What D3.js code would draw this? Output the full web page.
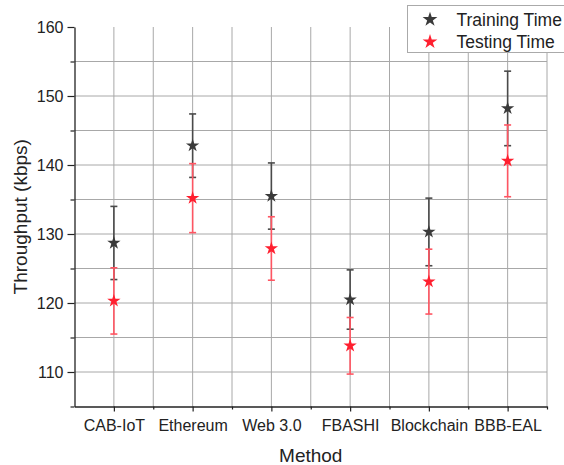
<!DOCTYPE html>
<html>
<head>
<meta charset="utf-8">
<script src="https://cdn.jsdelivr.net/npm/d3@7"></script>
<style>
  body { margin: 0; background: #fff; }
  svg { display: block; font-family: "Liberation Sans", Arial, sans-serif; }
</style>
</head>
<body>
<div id="chart"></div>
<script>
// methods on the x axis
var methods = ["CAB-IoT", "Ethereum", "Web 3.0", "FBASHI", "Blockchain", "BBB-EAL"];

// throughput (kbps)
var trainingTime = [128.7, 142.8, 135.5, 120.5, 130.3, 148.2];
var trainingErr  = [5.3, 4.6, 4.8, 4.3, 4.9, 5.4];
var testingTime  = [120.3, 135.2, 127.9, 113.8, 123.1, 140.6];
var testingErr   = [4.8, 5.0, 4.6, 4.1, 4.7, 5.2];

var yTicks = [110, 120, 130, 140, 150, 160];
var yMinor = [105, 115, 125, 135, 145, 155];

var width = 564, height = 465;

var svg = d3.select("#chart").append("svg")
    .attr("width", width)
    .attr("height", height);

var x = d3.scaleLinear().domain([0.5, 6.5]).range([74.5, 547]);
var y = d3.scaleLinear().domain([105, 160]).range([406.5, 27]);

var gridColor = "#a8a8a8";

// horizontal grid (every 5, not at the top)
svg.append("g").selectAll("line")
    .data(d3.range(110, 160, 5))
    .enter().append("line")
    .attr("x1", x(0.5)).attr("x2", x(6.5))
    .attr("y1", d => y(d)).attr("y2", d => y(d))
    .attr("stroke", gridColor).attr("stroke-width", 1);

// vertical grid at categories and half steps
svg.append("g").selectAll("line")
    .data(d3.range(1, 6.6, 0.5))
    .enter().append("line")
    .attr("x1", d => x(d)).attr("x2", d => x(d))
    .attr("y1", y(105)).attr("y2", y(160))
    .attr("stroke", gridColor).attr("stroke-width", 1);

// y axis
var yAxis = svg.append("g")
    .attr("transform", "translate(" + x(0.5) + ",0)")
    .call(d3.axisLeft(y).tickValues(yTicks).tickSize(7).tickSizeOuter(0).tickPadding(4));
yAxis.select(".domain").attr("stroke", "#222").attr("stroke-width", 1.3);
yAxis.selectAll(".tick line").attr("stroke", "#222").attr("stroke-width", 1.2);
yAxis.selectAll("text").attr("font-size", 16).attr("fill", "#222").attr("font-family", "Liberation Sans, Arial, sans-serif");

svg.append("g")
    .attr("transform", "translate(" + x(0.5) + ",0)")
    .call(d3.axisLeft(y).tickValues(yMinor).tickSize(4).tickFormat(""))
    .call(g => g.select(".domain").remove())
    .selectAll(".tick line").attr("stroke", "#222").attr("stroke-width", 1.2);

// x axis
var xAxis = svg.append("g")
    .attr("transform", "translate(0," + y(105) + ")")
    .call(d3.axisBottom(x).tickValues(d3.range(1, 7)).tickSize(5).tickSizeOuter(0).tickPadding(8)
        .tickFormat(d => methods[d - 1]));
xAxis.select(".domain").attr("stroke", "#222").attr("stroke-width", 1.3);
xAxis.selectAll(".tick line").attr("stroke", "#222").attr("stroke-width", 1.2);
xAxis.selectAll("text").attr("font-size", 16).attr("fill", "#222").attr("font-family", "Liberation Sans, Arial, sans-serif");

svg.append("g")
    .attr("transform", "translate(0," + y(105) + ")")
    .call(d3.axisBottom(x).tickValues([1.5, 2.5, 3.5, 4.5, 5.5, 6.5]).tickSize(3).tickFormat(""))
    .call(g => g.select(".domain").remove())
    .selectAll(".tick line").attr("stroke", "#222").attr("stroke-width", 1.2);

// axis titles
svg.append("text")
    .attr("x", x(3.5)).attr("y", 462)
    .attr("text-anchor", "middle")
    .attr("font-size", 19).attr("fill", "#222")
    .text("Method");

svg.append("text")
    .attr("transform", "translate(27," + y(132.5) + ") rotate(-90)")
    .attr("text-anchor", "middle")
    .attr("font-size", 19).attr("fill", "#222")
    .text("Throughput (kbps)");

var star = d3.symbol().type(d3.symbolStar).size(55);

function drawSeries(vals, errs, barColor, starColor) {
    var g = svg.append("g");
    var pts = vals.map((v, i) => ({ i: i + 1, v: v, e: errs[i] }));
    var bars = g.selectAll(".eb").data(pts).enter().append("g");
    bars.append("line")
        .attr("x1", d => x(d.i)).attr("x2", d => x(d.i))
        .attr("y1", d => y(d.v - d.e)).attr("y2", d => y(d.v + d.e))
        .attr("stroke", barColor).attr("stroke-width", 1.6);
    bars.append("line")
        .attr("x1", d => x(d.i) - 3.5).attr("x2", d => x(d.i) + 3.5)
        .attr("y1", d => y(d.v + d.e)).attr("y2", d => y(d.v + d.e))
        .attr("stroke", barColor).attr("stroke-width", 1.6);
    bars.append("line")
        .attr("x1", d => x(d.i) - 3.5).attr("x2", d => x(d.i) + 3.5)
        .attr("y1", d => y(d.v - d.e)).attr("y2", d => y(d.v - d.e))
        .attr("stroke", barColor).attr("stroke-width", 1.6);
    g.selectAll(".pt").data(pts).enter().append("path")
        .attr("d", star)
        .attr("transform", d => "translate(" + x(d.i) + "," + y(d.v) + ")")
        .attr("fill", starColor);
}

drawSeries(trainingTime, trainingErr, "#4a4a4a", "#3a3a3a");
drawSeries(testingTime, testingErr, "#ff5562", "#ff1f2f");

// legend
var legend = svg.append("g");
legend.append("rect")
    .attr("x", 407.5).attr("y", 5.5)
    .attr("width", 170).attr("height", 47)
    .attr("fill", "#fff").attr("stroke", "#aaa").attr("stroke-width", 1);

var legendItems = [
    { label: "Training Time", color: "#3a3a3a" },
    { label: "Testing Time", color: "#ff1f2f" }
];
legendItems.forEach(function(d, i) {
    legend.append("path")
        .attr("d", d3.symbol().type(d3.symbolStar).size(68))
        .attr("transform", "translate(430," + (19.5 + i * 22.3) + ")")
        .attr("fill", d.color);
    legend.append("text")
        .attr("x", 456.5).attr("y", 25.5 + i * 22.3)
        .attr("font-size", 17.5).attr("fill", "#222")
        .text(d.label);
});
</script>
</body>
</html>
